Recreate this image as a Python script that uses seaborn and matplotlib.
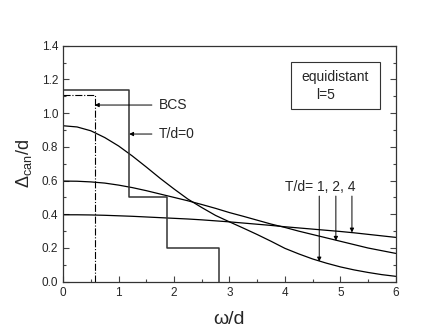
import matplotlib
matplotlib.use("Agg")
import matplotlib.pyplot as plt
import seaborn as sns
import pandas as pd
from matplotlib.patches import Rectangle
from matplotlib.ticker import MultipleLocator, FormatStrFormatter

# curve values
omega = [0.0, 0.25, 0.5, 0.75, 1.0, 1.25, 1.5, 1.75, 2.0, 2.25, 2.5, 2.75, 3.0,
         3.25, 3.5, 3.75, 4.0, 4.25, 4.5, 4.75, 5.0, 5.25, 5.5, 5.75, 6.0]
gap_t1 = [0.925, 0.918, 0.895, 0.855, 0.805, 0.745, 0.68, 0.613, 0.55, 0.49,
          0.44, 0.393, 0.355, 0.318, 0.28, 0.24, 0.198, 0.165, 0.135, 0.11,
          0.088, 0.07, 0.055, 0.042, 0.032]
gap_t2 = [0.597, 0.596, 0.592, 0.585, 0.573, 0.558, 0.54, 0.52, 0.50, 0.48,
          0.458, 0.435, 0.41, 0.388, 0.365, 0.342, 0.322, 0.30, 0.28, 0.26,
          0.24, 0.22, 0.20, 0.184, 0.168]
gap_t4 = [0.397, 0.397, 0.396, 0.394, 0.391, 0.388, 0.384, 0.38, 0.376, 0.372,
          0.367, 0.361, 0.355, 0.348, 0.341, 0.334, 0.326, 0.319, 0.312, 0.305,
          0.298, 0.29, 0.281, 0.272, 0.263]

# step functions (T/d=0 and BCS)
step_x = [0.0, 1.18, 1.87, 2.82]
step_y = [1.14, 0.50, 0.20, 0.0]
bcs_x = [0.0, 0.57]
bcs_y = [1.11, 0.0]

sns.set_style("ticks")
plt.rcParams["font.family"] = ["Liberation Sans", "DejaVu Sans"]
plt.rcParams["mathtext.fontset"] = "custom"
plt.rcParams["mathtext.rm"] = "Liberation Sans"

fig = plt.figure(figsize=(4.36, 3.33), dpi=100)
ax = fig.add_axes([0.145, 0.154, 0.7626, 0.7088])

n = len(omega)
curves = pd.DataFrame({"omega": omega * 3,
                       "gap": gap_t1 + gap_t2 + gap_t4,
                       "T": ["1"] * n + ["2"] * n + ["4"] * n})
sns.lineplot(data=curves, x="omega", y="gap", units="T", estimator=None,
             color="black", lw=0.9, ax=ax)
sns.lineplot(x=step_x, y=step_y, drawstyle="steps-post", color="#333333",
             lw=1.1, ax=ax)
sns.lineplot(x=bcs_x, y=bcs_y, drawstyle="steps-post", color="black",
             lw=0.8, ls="-.", ax=ax)

ax.set_xlim(0, 6)
ax.set_ylim(0, 1.4)
ax.xaxis.set_major_locator(MultipleLocator(1))
ax.xaxis.set_minor_locator(MultipleLocator(0.5))
ax.yaxis.set_major_locator(MultipleLocator(0.2))
ax.yaxis.set_minor_locator(MultipleLocator(0.1))
ax.yaxis.set_major_formatter(FormatStrFormatter("%.1f"))
ax.tick_params(which="both", direction="in", right=True, labelsize=8.5,
               width=0.8, color="#444444")
ax.tick_params(which="major", length=4)
ax.tick_params(which="minor", length=2.5)
for sp in ax.spines.values():
    sp.set_linewidth(0.9)
    sp.set_color("#333333")

ax.set_xlabel("ω/d", fontsize=14, labelpad=9)
ax.set_ylabel(r"Δ$_{\mathrm{can}}$/d", fontsize=13, labelpad=6)

arrow = dict(arrowstyle="-|>", color="black", lw=0.7,
             mutation_scale=6, shrinkA=0, shrinkB=0)
ax.annotate("", xy=(0.57, 1.048), xytext=(1.6, 1.048), arrowprops=arrow)
ax.text(1.73, 1.048, "BCS", fontsize=10, va="center")
ax.annotate("", xy=(1.19, 0.876), xytext=(1.6, 0.876), arrowprops=arrow)
ax.text(1.72, 0.876, "T/d=0", fontsize=10, va="center")

ax.text(4.63, 0.563, "T/d= 1, 2, 4", fontsize=10, ha="center", va="center")
ax.annotate("", xy=(4.62, 0.12), xytext=(4.62, 0.508), arrowprops=arrow)
ax.annotate("", xy=(4.92, 0.243), xytext=(4.92, 0.508), arrowprops=arrow)
ax.annotate("", xy=(5.21, 0.292), xytext=(5.21, 0.508), arrowprops=arrow)

ax.add_patch(Rectangle((0.684, 0.730), 0.269, 0.200, transform=ax.transAxes,
                       fill=False, lw=0.8, ec="#333333"))
ax.text(0.817, 0.869, "equidistant", transform=ax.transAxes, fontsize=10,
        ha="center", va="center")
ax.text(0.762, 0.791, "l=5", transform=ax.transAxes, fontsize=10,
        ha="left", va="center")

fig.savefig("out.png", dpi=100)
